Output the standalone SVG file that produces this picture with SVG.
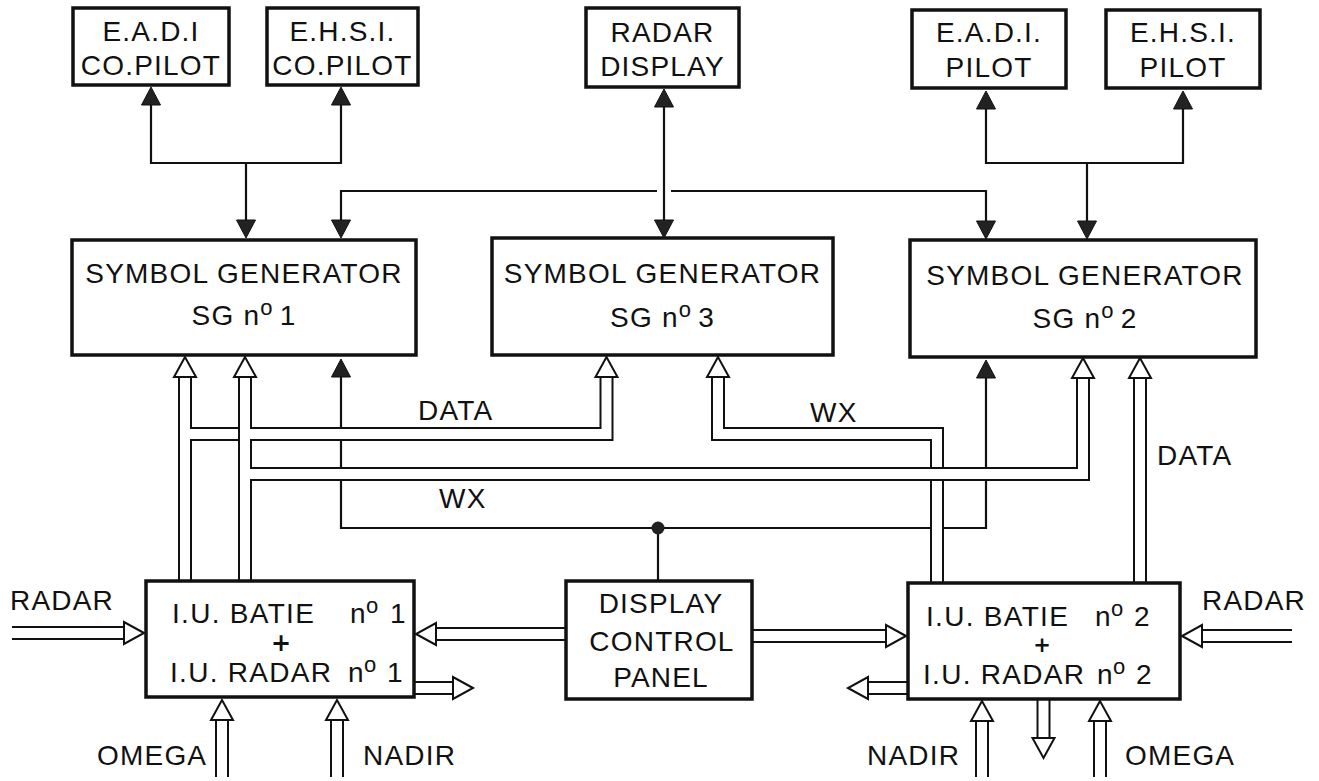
<svg xmlns="http://www.w3.org/2000/svg" xmlns:xlink="http://www.w3.org/1999/xlink" width="1319" height="781" viewBox="0 0 1319 781">
<style>
.box{fill:#fff;stroke:#111;stroke-width:3.5}
.t{font-family:"Liberation Sans",Arial,Helvetica,sans-serif;font-size:28px;fill:#111;letter-spacing:1.2px}
.c{text-anchor:middle}
.sup{font-size:22px}
.plus{font-family:"DejaVu Sans",sans-serif;font-size:24px;font-weight:bold;fill:#111;text-anchor:middle}
.ln{fill:none;stroke:#111;stroke-width:2.2}
.po{fill:none;stroke:#111;stroke-width:14}
.pi{fill:none;stroke:#fff;stroke-width:10}
.ha{fill:#fff;stroke:#111;stroke-width:2}
.da{fill:#222;stroke:#111;stroke-width:1}
</style>
<defs>
<path id="ha" class="ha" d="M0,0 L-11,20 L11,20 Z"/>
<path id="da" class="da" d="M0,0 L-9.5,18 L9.5,18 Z"/>
</defs>
<rect width="1319" height="781" fill="#fff"/>

<g id="connectors">
  <!-- single lines -->
  <path class="ln" d="M151,104 V163 H341 V104 M246,163 V221"/>
  <path class="ln" d="M341,221 V191 H986 V221"/>
  <path d="M657,191 H671" stroke="#fff" stroke-width="5"/>
  <path class="ln" d="M664,105 V221"/>
  <path class="ln" d="M986,107 V163 H1183 V107 M1087,163 V222"/>
  <path class="ln" d="M341,376 V528 H986 V377"/>
  <path class="ln" d="M658,528 V585"/>
  <circle cx="658" cy="528" r="6.5" fill="#222"/>

  <!-- double-line buses -->
  <path class="po" d="M937,587 V434 H718 V376"/>
  <path class="pi" d="M937,587 V434 H718 V376"/>
  <path class="po" d="M185,585 V376 M185,434 H606.5 V376"/>
  <path class="pi" d="M185,585 V376 M185,434 H606.5 V376"/>
  <path class="po" d="M245,585 V376 M245,474 H1083 V376"/>
  <path class="pi" d="M245,585 V376 M245,474 H1083 V376"/>
  <rect x="249" y="429" width="3.5" height="10" fill="#fff"/>
  <path class="po" d="M1140,587 V377"/>
  <path class="pi" d="M1140,587 V377"/>

  <path class="po" d="M12,633 H125 M570,634 H435 M410,688 H453 M748,636 H887 M1292,636 H1201 M912,688 H867 M1043.5,695 V739 M222,777 V719 M337,777 V719 M982,777 V719 M1100,777 V719"/>
  <path class="pi" d="M12,633 H125 M570,634 H435 M410,688 H453 M748,636 H887 M1292,636 H1201 M912,688 H867 M1043.5,695 V739 M222,777 V719 M337,777 V719 M982,777 V719 M1100,777 V719"/>

  <!-- dark arrowheads -->
  <use xlink:href="#da" href="#da" transform="translate(151,87)"/>
  <use xlink:href="#da" href="#da" transform="translate(341,87)"/>
  <use xlink:href="#da" href="#da" transform="translate(246,238) rotate(180)"/>
  <use xlink:href="#da" href="#da" transform="translate(341,238) rotate(180)"/>
  <use xlink:href="#da" href="#da" transform="translate(664,89)"/>
  <use xlink:href="#da" href="#da" transform="translate(664,238) rotate(180)"/>
  <use xlink:href="#da" href="#da" transform="translate(986,91)"/>
  <use xlink:href="#da" href="#da" transform="translate(1183,91)"/>
  <use xlink:href="#da" href="#da" transform="translate(986,239) rotate(180)"/>
  <use xlink:href="#da" href="#da" transform="translate(1087,239) rotate(180)"/>
  <use xlink:href="#da" href="#da" transform="translate(341,359)"/>
  <use xlink:href="#da" href="#da" transform="translate(986,360)"/>

  <!-- hollow arrowheads -->
  <use xlink:href="#ha" href="#ha" transform="translate(185,357)"/>
  <use xlink:href="#ha" href="#ha" transform="translate(245,357)"/>
  <use xlink:href="#ha" href="#ha" transform="translate(606.5,357)"/>
  <use xlink:href="#ha" href="#ha" transform="translate(718,357)"/>
  <use xlink:href="#ha" href="#ha" transform="translate(1083,358)"/>
  <use xlink:href="#ha" href="#ha" transform="translate(1140,358)"/>
  <use xlink:href="#ha" href="#ha" transform="translate(144,633) rotate(90)"/>
  <use xlink:href="#ha" href="#ha" transform="translate(416,634) rotate(-90)"/>
  <use xlink:href="#ha" href="#ha" transform="translate(473,688) rotate(90)"/>
  <use xlink:href="#ha" href="#ha" transform="translate(906,636) rotate(90)"/>
  <use xlink:href="#ha" href="#ha" transform="translate(1182,636) rotate(-90)"/>
  <use xlink:href="#ha" href="#ha" transform="translate(848,688) rotate(-90)"/>
  <use xlink:href="#ha" href="#ha" transform="translate(1043.5,758) rotate(180)"/>
  <use xlink:href="#ha" href="#ha" transform="translate(222,700)"/>
  <use xlink:href="#ha" href="#ha" transform="translate(337,700)"/>
  <use xlink:href="#ha" href="#ha" transform="translate(982,701)"/>
  <use xlink:href="#ha" href="#ha" transform="translate(1100,701)"/>
</g>

<g id="eadi-copilot">
  <rect class="box" x="73" y="8" width="156" height="77"/>
  <text class="t c" x="151" y="41">E.A.D.I</text>
  <text class="t c" x="151" y="75">CO.PILOT</text>
</g>
<g id="ehsi-copilot">
  <rect class="box" x="267" y="8" width="151" height="77"/>
  <text class="t c" x="342.5" y="41">E.H.S.I.</text>
  <text class="t c" x="342.5" y="75">CO.PILOT</text>
</g>
<g id="radar-display">
  <rect class="box" x="586" y="8" width="153" height="79"/>
  <text class="t c" x="662.5" y="42">RADAR</text>
  <text class="t c" x="662.5" y="76">DISPLAY</text>
</g>
<g id="eadi-pilot">
  <rect class="box" x="912" y="10" width="154" height="78"/>
  <text class="t c" x="989" y="42">E.A.D.I.</text>
  <text class="t c" x="989" y="77">PILOT</text>
</g>
<g id="ehsi-pilot">
  <rect class="box" x="1106" y="10" width="154" height="78"/>
  <text class="t c" x="1183" y="42">E.H.S.I.</text>
  <text class="t c" x="1183" y="77">PILOT</text>
</g>

<g id="sg1">
  <rect class="box" x="72" y="240" width="344" height="115"/>
  <text class="t c" x="244" y="283">SYMBOL GENERATOR</text>
  <text class="t c" x="244" y="325">SG n<tspan class="sup" dy="-10">o</tspan><tspan dy="10" dx="6">1</tspan></text>
</g>
<g id="sg3">
  <rect class="box" x="492" y="238" width="341" height="117"/>
  <text class="t c" x="662.5" y="283">SYMBOL GENERATOR</text>
  <text class="t c" x="662.5" y="327">SG n<tspan class="sup" dy="-10">o</tspan><tspan dy="10" dx="6">3</tspan></text>
</g>
<g id="sg2">
  <rect class="box" x="910" y="240" width="346" height="117"/>
  <text class="t c" x="1085" y="285">SYMBOL GENERATOR</text>
  <text class="t c" x="1085" y="328">SG n<tspan class="sup" dy="-10">o</tspan><tspan dy="10" dx="6">2</tspan></text>
</g>

<g id="iu1">
  <rect class="box" x="146" y="581" width="268" height="116"/>
  <text class="t" x="172" y="623" style="letter-spacing:1.3px">I.U. BATIE</text>
  <text class="t" y="623"><tspan x="350">n</tspan><tspan class="sup" x="366" y="613">o</tspan><tspan x="390" y="623">1</tspan></text>
  <text class="plus" x="281" y="651">+</text>
  <text class="t" x="170" y="682" style="letter-spacing:1.3px">I.U. RADAR</text>
  <text class="t" y="682"><tspan x="348">n</tspan><tspan class="sup" x="364" y="672">o</tspan><tspan x="387" y="682">1</tspan></text>
</g>
<g id="display-control-panel">
  <rect class="box" x="566" y="581" width="186" height="118"/>
  <text class="t c" x="661" y="613">DISPLAY</text>
  <text class="t c" x="662" y="651">CONTROL</text>
  <text class="t c" x="661" y="687">PANEL</text>
</g>
<g id="iu2">
  <rect class="box" x="908" y="583" width="272" height="116"/>
  <text class="t" x="926" y="626" style="letter-spacing:1.3px">I.U. BATIE</text>
  <text class="t" y="626"><tspan x="1095">n</tspan><tspan class="sup" x="1111" y="616">o</tspan><tspan x="1134" y="626">2</tspan></text>
  <text class="plus" x="1042" y="652" style="font-size:21px">+</text>
  <text class="t" x="923" y="684" style="letter-spacing:1.3px">I.U. RADAR</text>
  <text class="t" y="684"><tspan x="1097">n</tspan><tspan class="sup" x="1113" y="674">o</tspan><tspan x="1136" y="684">2</tspan></text>
</g>

<g id="labels">
  <text class="t" x="418" y="420">DATA</text>
  <text class="t" x="439" y="508">WX</text>
  <text class="t" x="810" y="422">WX</text>
  <text class="t" x="1157" y="465">DATA</text>
  <text class="t" x="10" y="610">RADAR</text>
  <text class="t" x="1202" y="610">RADAR</text>
  <text class="t" x="97" y="765">OMEGA</text>
  <text class="t" x="363" y="765">NADIR</text>
  <text class="t" x="867" y="765">NADIR</text>
  <text class="t" x="1125" y="765">OMEGA</text>
</g>
</svg>
